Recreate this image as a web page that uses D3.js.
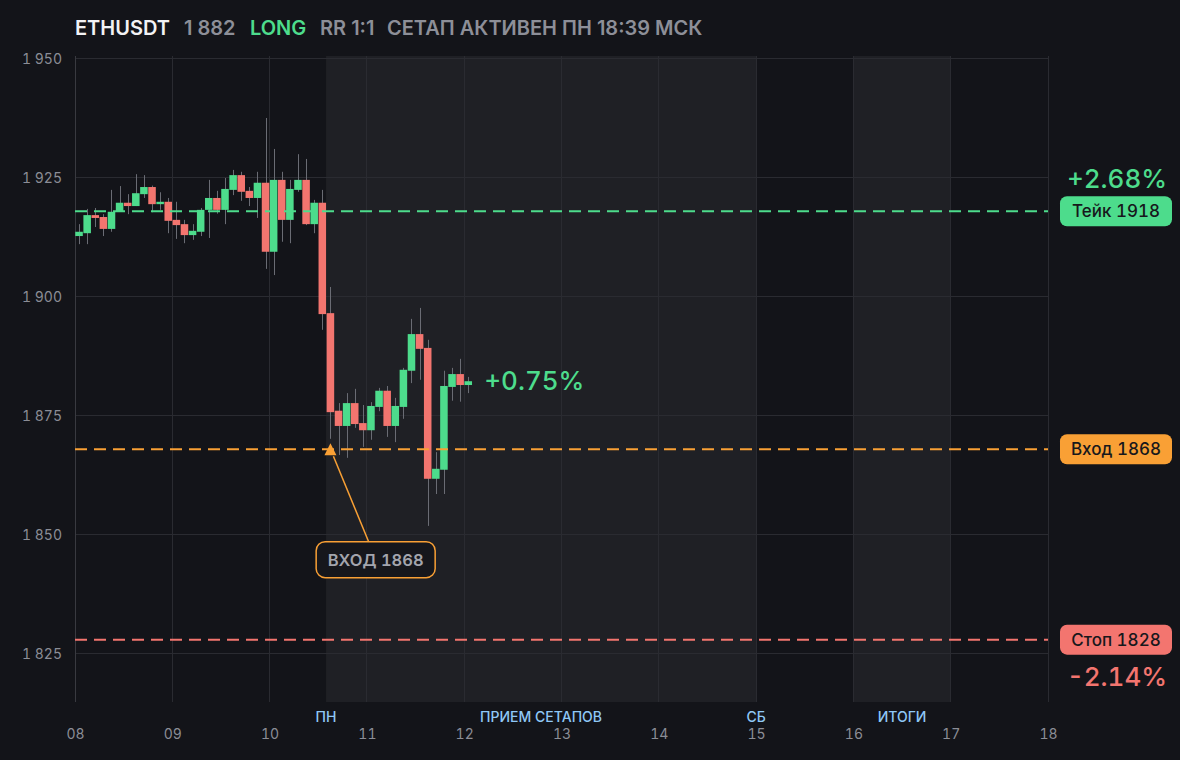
<!DOCTYPE html>
<html>
<head>
<meta charset="utf-8">
<script src="https://cdn.jsdelivr.net/npm/d3@7/dist/d3.min.js"></script>
<style>
html,body{margin:0;padding:0;background:#131419;}
svg{display:block;}
text{font-family:Inter,"Noto Sans",sans-serif;font-variant-numeric:tabular-nums;}
text.title{font-variant-numeric:normal;}
</style>
</head>
<body>
<svg id="chart" width="1180" height="760"></svg>
<script>
// ---- data ----
const symbol = "ETHUSDT";
const lastPrice = "1 882";
const side = "LONG";
const rr = "RR 1:1";
const status = "СЕТАП АКТИВЕН ПН 18:39 МСК";

const candleStart = 8;          // day of first candle
const candlesPerDay = 12;       // 2h candles
const opens  = [1912.8,1913.4,1917.2,1916.8,1914.3,1917.9,1919.8,1919.1,1921.6,1923.1,1919.5,1920.0,1916.2,1915.3,1913.0,1913.7,1918.3,1920.8,1918.3,1922.5,1925.6,1922.3,1920.8,1924.0,1909.5,1924.6,1916.2,1922.5,1924.6,1915.3,1919.8,1896.6,1876.1,1872.9,1877.7,1873.5,1872.0,1876.9,1880.3,1872.9,1876.9,1884.5,1892.2,1889.3,1861.8,1863.7,1881.1,1883.8,1881.5];
const highs  = [1915.3,1918.5,1918.7,1917.4,1922.5,1923.3,1921.6,1925.8,1925.6,1923.4,1922.0,1920.8,1920.0,1916.2,1915.3,1918.7,1924.6,1922.3,1925.0,1926.7,1926.3,1923.1,1926.3,1937.6,1931.1,1926.3,1924.6,1930.0,1929.0,1920.4,1922.5,1902.1,1877.7,1879.8,1880.7,1877.3,1877.9,1880.9,1881.3,1878.8,1885.1,1895.4,1897.7,1891.0,1867.4,1884.5,1885.1,1887.0,1883.2];
const lows   = [1911.1,1911.1,1914.7,1912.8,1913.7,1917.9,1917.4,1919.1,1920.8,1917.8,1918.3,1913.4,1912.2,1911.3,1912.0,1912.8,1912.4,1917.5,1915.3,1921.4,1920.2,1919.1,1916.6,1905.9,1904.6,1911.6,1911.3,1922.1,1915.1,1913.4,1893.1,1870.2,1866.8,1866.2,1872.5,1868.5,1870.0,1876.0,1870.6,1869.5,1874.4,1881.9,1882.6,1851.9,1858.6,1858.6,1878.2,1878.0,1879.8];
const closes = [1913.7,1917.2,1916.6,1914.3,1917.9,1919.8,1919.1,1921.8,1923.1,1919.5,1920.0,1916.0,1915.1,1913.0,1913.9,1918.3,1920.8,1918.3,1922.7,1925.6,1922.1,1920.8,1924.0,1909.5,1924.6,1916.2,1922.7,1924.6,1915.3,1919.8,1896.4,1875.8,1872.9,1877.7,1873.3,1872.0,1877.1,1880.3,1872.9,1877.1,1884.7,1892.2,1889.1,1861.8,1863.9,1881.3,1883.8,1881.5,1882.3];

const yTicks = [1825,1850,1875,1900,1925,1950];
const yTickLabels = ["1 825","1 850","1 875","1 900","1 925","1 950"];
const xTicks = [8,9,10,11,12,13,14,15,16,17,18];
const xTickLabels = ["08","09","10","11","12","13","14","15","16","17","18"];

const bands = [[10.58,15,"ПРИЕМ СЕТАПОВ"],[16,17,"ИТОГИ"]];
const markers = [[10.58,"ПН"],[15,"СБ"]];

const takePrice = 1918, entryPrice = 1868, stopPrice = 1828;
const takeLabel = "Тейк 1918", entryLabel = "Вход 1868", stopLabel = "Стоп 1828";
const takePct = "+2.68%", stopPct = "-2.14%", livePct = "+0.75%";
const entryTime = 10.625;
const calloutAt = [11.09, 1844.8];
const calloutText = "ВХОД 1868";

// ---- style ----
const C = {bg:"#131419", band:"#1f2025", grid:"#2a2b31", axis:"#393a40", tick:"#8b8d96",
  green:"#4ddc8c", red:"#f3756f", orange:"#f9a035", blue:"#8fc8f6", wick:"#6a6c74", title:"#f2f2f4", sub:"#8d8f98"};

const svg = d3.select("#chart");
const x = d3.scaleLinear().domain([8,18]).range([75,1048]);
const y = d3.scaleLinear().domain([1814.9,1950.63]).range([702,56]);
const [x0,x1] = x.range(), [y1,y0] = y.range();

svg.append("rect").attr("width",1180).attr("height",760).attr("fill",C.bg);

// bands
svg.append("g").selectAll("rect").data(bands).join("rect")
  .attr("x",d=>x(d[0])).attr("width",d=>x(d[1])-x(d[0]))
  .attr("y",y0).attr("height",y1-y0).attr("fill",C.band);

// grid
const grid = svg.append("g");
grid.selectAll(".h").data(yTicks).join("line")
  .attr("x1",x0).attr("x2",x1).attr("y1",d=>y(d)).attr("y2",d=>y(d))
  .attr("stroke",C.grid).attr("stroke-width",1).attr("shape-rendering","crispEdges");
grid.selectAll(".v").data(xTicks.slice(1)).join("line")
  .attr("x1",d=>x(d)).attr("x2",d=>x(d)).attr("y1",y0).attr("y2",y1)
  .attr("stroke",C.grid).attr("stroke-width",1).attr("shape-rendering","crispEdges");
grid.append("line").attr("x1",x0).attr("x2",x0).attr("y1",y0).attr("y2",y1)
  .attr("stroke",C.axis).attr("shape-rendering","crispEdges");

// y axis labels
const yAxis = d3.axisLeft(y).tickValues(yTicks).tickFormat((d,i)=>yTickLabels[i]).tickSize(0).tickPadding(13);
const ga = svg.append("g").attr("transform",`translate(${x0},0)`).call(yAxis);
ga.select(".domain").remove();
ga.selectAll("text").attr("fill",C.tick).attr("font-size",14).attr("font-family","Inter,'Noto Sans',sans-serif");

// x axis labels
const xAxis = d3.axisBottom(x).tickValues(xTicks).tickFormat((d,i)=>xTickLabels[i]).tickSize(0).tickPadding(0);
const gx = svg.append("g").attr("transform",`translate(0,729)`).call(xAxis);
gx.select(".domain").remove();
gx.selectAll("text").attr("fill",C.tick).attr("font-size",14).attr("font-family","Inter,'Noto Sans',sans-serif");

// band / marker labels
const bl = svg.append("g").attr("font-size",14).attr("font-weight",500).attr("fill",C.blue).attr("text-anchor","middle");
bl.selectAll(".b").data(bands).join("text").attr("x",d=>(x(d[0])+x(d[1]))/2).attr("y",722).text(d=>d[2]);
bl.selectAll(".m").data(markers).join("text").attr("x",d=>x(d[0])).attr("y",722).text(d=>d[1]);

// candles
const candles = opens.map((o,i)=>({t:candleStart+(i+0.5)/candlesPerDay,o,h:highs[i],l:lows[i],c:closes[i]}));
const step = x(candleStart+1/candlesPerDay)-x(candleStart);
const bw = step*0.93;
const cg = svg.append("g");
cg.selectAll("line").data(candles).join("line")
  .attr("x1",d=>Math.round(x(d.t))+0.5).attr("x2",d=>Math.round(x(d.t))+0.5)
  .attr("y1",d=>y(d.h)).attr("y2",d=>y(d.l)).attr("stroke",C.wick).attr("stroke-width",1);
cg.selectAll("rect").data(candles).join("rect")
  .attr("x",d=>x(d.t)-bw/2).attr("width",bw)
  .attr("y",d=>y(Math.max(d.o,d.c))).attr("height",d=>Math.max(2,Math.abs(y(d.o)-y(d.c))))
  .attr("fill",d=>d.c>=d.o?C.green:C.red);

// level lines
const levels = [[takePrice,C.green,takeLabel],[entryPrice,C.orange,entryLabel],[stopPrice,C.red,stopLabel]];
svg.append("g").selectAll("line").data(levels).join("line")
  .attr("x1",x0).attr("x2",x1).attr("y1",d=>y(d[0])).attr("y2",d=>y(d[0]))
  .attr("stroke",d=>d[1]).attr("stroke-width",2).attr("stroke-dasharray","12 7");

// right labels
const rl = svg.append("g");
levels.forEach(d=>{
  const cy = y(d[0]);
  rl.append("rect").attr("x",x1+12).attr("y",cy-15).attr("width",112).attr("height",30).attr("rx",7).attr("fill",d[1]);
  rl.append("text").attr("x",x1+12+56).attr("y",cy+6).attr("text-anchor","middle")
    .attr("font-size",17).attr("font-weight",500).attr("fill","#17181c").text(d[2]);
});
rl.append("text").attr("x",x1+69).attr("y",y(takePrice)-23).attr("text-anchor","middle")
  .attr("font-size",26).attr("font-weight",500).attr("fill",C.green).text(takePct);
rl.append("text").attr("x",x1+69).attr("y",y(stopPrice)+46).attr("text-anchor","middle")
  .attr("font-size",26).attr("font-weight",500).attr("fill",C.red).text(stopPct);

// live pct next to last candle
const last = candles[candles.length-1];
svg.append("text").attr("x",x(last.t)+16).attr("y",y(last.c)+9)
  .attr("font-size",26).attr("font-weight",500).attr("fill",C.green).text(livePct);

// entry marker + callout
const tx = x(entryTime), ty = y(entryPrice);
svg.append("path").attr("d",`M${tx},${ty-6}L${tx+6},${ty+6}L${tx-6},${ty+6}Z`).attr("fill",C.orange);
const bx = x(calloutAt[0]), by = y(calloutAt[1]);
svg.append("line").attr("x1",tx+3).attr("y1",ty+7).attr("x2",bx-7).attr("y2",by-18)
  .attr("stroke",C.orange).attr("stroke-width",1.5);
svg.append("rect").attr("x",bx-59.5).attr("y",by-18).attr("width",119).attr("height",36).attr("rx",9)
  .attr("fill","#16171c").attr("stroke",C.orange).attr("stroke-width",1.5);
svg.append("text").attr("x",bx).attr("y",by+6).attr("text-anchor","middle")
  .attr("font-size",16.5).attr("font-weight",600).attr("fill","#a3a5ad").text(calloutText);

// title
const t = svg.append("text").attr("class","title").attr("y",35).attr("font-size",20).attr("font-weight",600);
t.append("tspan").attr("x",75).attr("fill",C.title).text(symbol);
t.append("tspan").attr("x",184).attr("fill",C.sub).text(lastPrice);
t.append("tspan").attr("x",250).attr("fill",C.green).text(side);
t.append("tspan").attr("x",320).attr("fill",C.sub).text(rr);
t.append("tspan").attr("x",387).attr("fill",C.sub).text(status);
</script>
</body>
</html>
